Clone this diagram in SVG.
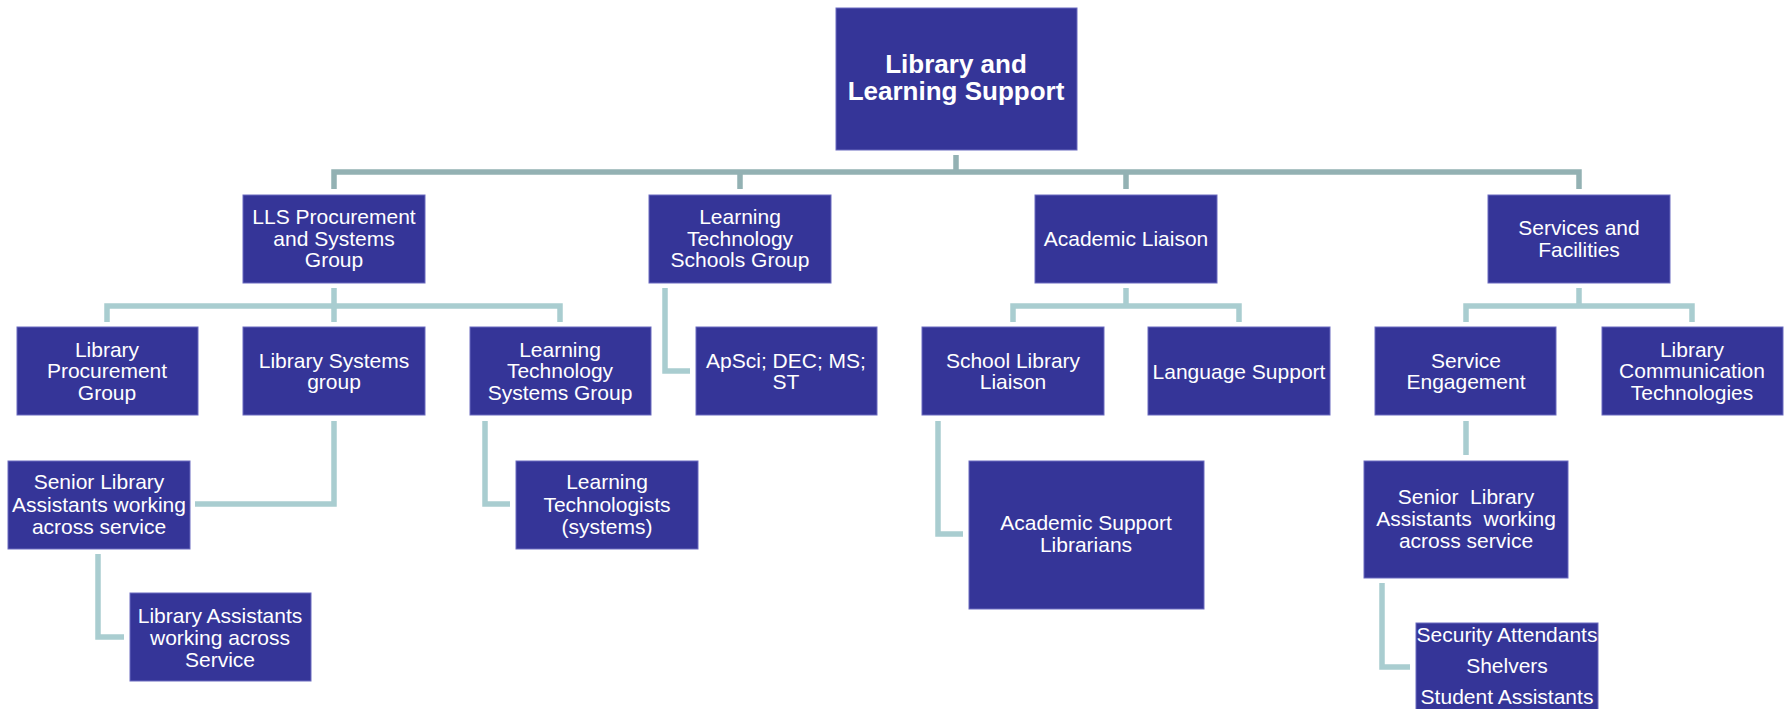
<svg xmlns="http://www.w3.org/2000/svg" width="1787" height="709" viewBox="0 0 1787 709">
<style>
.box{fill:#353598;stroke:#6a6abf;stroke-width:1}
.t{font-family:"Liberation Sans",Arial,sans-serif;font-size:21px;fill:#ffffff;text-anchor:middle}
.title{font-family:"Liberation Sans",Arial,sans-serif;font-size:26px;font-weight:bold;fill:#ffffff;text-anchor:middle}
.c1{fill:none;stroke:#93b1b3;stroke-width:5.5;stroke-linejoin:miter}
.c2{fill:none;stroke:#a9cdd0;stroke-width:5.5;stroke-linejoin:miter}
</style>
<rect width="1787" height="709" fill="#ffffff"/>
<g id="connectors">
<path class="c1" d="M956,155 V172 M334,189 V172 H1579 V189 M740,172 V189 M1126,172 V189"/>
<path class="c2" d="M334,288 V306 M107,322 V306 H560 V322 M334,306 V322"/>
<path class="c2" d="M1126,288 V306 M1013,322 V306 H1239 V322"/>
<path class="c2" d="M1579,288 V306 M1466,322 V306 H1692 V322"/>
<path class="c2" d="M665,288 V371 H690"/>
<path class="c2" d="M334,421 V504 H195"/>
<path class="c2" d="M485,421 V504 H510"/>
<path class="c2" d="M938,421 V534 H963"/>
<path class="c2" d="M1466,421 V455"/>
<path class="c2" d="M98,554 V637 H124"/>
<path class="c2" d="M1382,583 V667 H1410"/>
</g>
<g id="root">
<rect class="box" x="836" y="8" width="241" height="142"/>
<text class="title" x="956" y="73">Library and</text>
<text class="title" x="956" y="100">Learning Support</text>
</g>
<g id="lls">
<rect class="box" x="243" y="195" width="182" height="88"/>
<text class="t" x="334" y="224">LLS Procurement</text>
<text class="t" x="334" y="246">and Systems</text>
<text class="t" x="334" y="267">Group</text>
</g>
<g id="ltsg">
<rect class="box" x="649" y="195" width="182" height="88"/>
<text class="t" x="740" y="224">Learning</text>
<text class="t" x="740" y="246">Technology</text>
<text class="t" x="740" y="267">Schools Group</text>
</g>
<g id="al">
<rect class="box" x="1035" y="195" width="182" height="88"/>
<text class="t" x="1126" y="246">Academic Liaison</text>
</g>
<g id="sf">
<rect class="box" x="1488" y="195" width="182" height="88"/>
<text class="t" x="1579" y="235">Services and</text>
<text class="t" x="1579" y="257">Facilities</text>
</g>
<g id="lpg">
<rect class="box" x="17" y="327" width="181" height="88"/>
<text class="t" x="107" y="357">Library</text>
<text class="t" x="107" y="378">Procurement</text>
<text class="t" x="107" y="400">Group</text>
</g>
<g id="lsg">
<rect class="box" x="243" y="327" width="182" height="88"/>
<text class="t" x="334" y="368">Library Systems</text>
<text class="t" x="334" y="389">group</text>
</g>
<g id="ltsysg">
<rect class="box" x="470" y="327" width="181" height="88"/>
<text class="t" x="560" y="357">Learning</text>
<text class="t" x="560" y="378">Technology</text>
<text class="t" x="560" y="400">Systems Group</text>
</g>
<g id="apsci">
<rect class="box" x="696" y="327" width="181" height="88"/>
<text class="t" x="786" y="368">ApSci; DEC; MS;</text>
<text class="t" x="786" y="389">ST</text>
</g>
<g id="sll">
<rect class="box" x="922" y="327" width="182" height="88"/>
<text class="t" x="1013" y="368">School Library</text>
<text class="t" x="1013" y="389">Liaison</text>
</g>
<g id="ls">
<rect class="box" x="1148" y="327" width="182" height="88"/>
<text class="t" x="1239" y="379">Language Support</text>
</g>
<g id="se">
<rect class="box" x="1375" y="327" width="181" height="88"/>
<text class="t" x="1466" y="368">Service</text>
<text class="t" x="1466" y="389">Engagement</text>
</g>
<g id="lct">
<rect class="box" x="1602" y="327" width="181" height="88"/>
<text class="t" x="1692" y="357">Library</text>
<text class="t" x="1692" y="378">Communication</text>
<text class="t" x="1692" y="400">Technologies</text>
</g>
<g id="sla-left">
<rect class="box" x="8" y="461" width="182" height="88"/>
<text class="t" x="99" y="489">Senior Library</text>
<text class="t" x="99" y="512">Assistants working</text>
<text class="t" x="99" y="534">across service</text>
</g>
<g id="la">
<rect class="box" x="130" y="593" width="181" height="88"/>
<text class="t" x="220" y="623">Library Assistants</text>
<text class="t" x="220" y="645">working across</text>
<text class="t" x="220" y="667">Service</text>
</g>
<g id="lt">
<rect class="box" x="516" y="461" width="182" height="88"/>
<text class="t" x="607" y="489">Learning</text>
<text class="t" x="607" y="512">Technologists</text>
<text class="t" x="607" y="534">(systems)</text>
</g>
<g id="asl">
<rect class="box" x="969" y="461" width="235" height="148"/>
<text class="t" x="1086" y="530">Academic Support</text>
<text class="t" x="1086" y="552">Librarians</text>
</g>
<g id="sla-right">
<rect class="box" x="1364" y="461" width="204" height="117"/>
<text class="t" x="1466" y="504" xml:space="preserve">Senior  Library</text>
<text class="t" x="1466" y="526" xml:space="preserve">Assistants  working</text>
<text class="t" x="1466" y="548">across service</text>
</g>
<g id="security">
<rect class="box" x="1416" y="623" width="182" height="92"/>
<text class="t" x="1507" y="642">Security Attendants</text>
<text class="t" x="1507" y="673">Shelvers</text>
<text class="t" x="1507" y="704">Student Assistants</text>
</g>
</svg>
